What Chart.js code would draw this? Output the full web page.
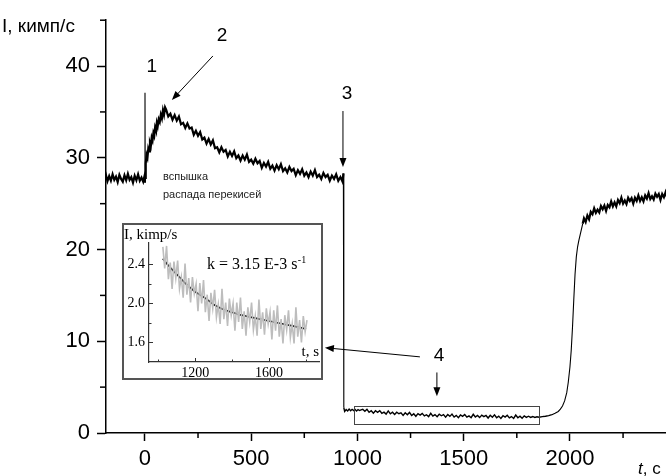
<!DOCTYPE html>
<html>
<head>
<meta charset="utf-8">
<script src="https://cdn.jsdelivr.net/npm/chart.js@4.4.1/dist/chart.umd.min.js"></script>
<style>
  html, body { margin: 0; padding: 0; background: #fff; }
  #wrap { position: relative; width: 666px; height: 476px; overflow: hidden; }
  #main { position: absolute; left: 0; top: 0; }
  #inset { position: absolute; left: 122px; top: 223px; width: 197px; height: 153px; border: 2px solid #555; background: #fff; }
  #inset canvas { display: block; }
</style>
</head>
<body>
<div id="wrap">
  <canvas id="main" width="666" height="476"></canvas>
  <div id="inset"><canvas id="insetChart" width="197" height="153"></canvas></div>
</div>
<script>
// baseline before the flash
const preT = [-190,-183,-176,-168,-160,-152,-144,-136,-128,-120,-112,-104,-96,-88,-80,-72,-64,-56,-48,-40,-32,-24,-16,-8,-3];
const preI = [27.6,28.1,27.45,28.0,27.5,28.2,27.6,27.95,27.35,28.15,27.7,27.4,28.1,27.55,28.25,27.6,27.9,27.3,28.05,27.55,28.2,27.5,27.85,27.4,27.9];

// spike (1) and rise of the flash (2)
const flashT = [0,0.5,1.5,3,5,8,12,16,20,24,28,32,36,40,44,48,52,56,60,65,70,75,80,85,90,95];
const flashI = [27.3,37.1,27.8,28.2,29.4,30.3,30.0,31.0,30.7,31.6,31.3,32.2,31.9,32.7,32.4,33.3,33.0,33.8,33.4,34.2,33.9,34.7,34.3,35.2,34.7,35.5];

// decay of the flash
const decayT = [100,110,120,130,140,150,160,170,180,190,200,210,220,230,240,250,260,270,280,290,
  300,310,320,330,340,350,360,370,380,390,400,410,420,430,440,450,460,470,480,490,
  500,510,520,530,540,550,560,570,580,590,600,610,620,630,640,650,660,670,680,690,
  700,710,720,730,740,750,760,770,780,790,800,810,820,830,840,850,860,870,880,890,
  900,910,920,930];
const decayI = [35.25,34.5,34.8,34.15,34.65,34.05,34.5,33.65,33.8,33.25,33.75,33.2,33.3,32.5,32.95,32.4,32.8,32.0,32.2,31.55,
  32.05,31.45,31.9,31.05,31.15,30.6,31.15,30.65,30.85,30.15,30.65,30.2,30.7,29.95,30.25,29.7,30.25,29.8,30.35,29.55,
  29.8,29.35,29.9,29.4,29.65,28.9,29.45,29.05,29.55,28.8,29.15,28.6,29.2,28.75,29.3,28.55,28.85,28.4,29.0,28.55,
  28.8,28.1,28.65,28.25,28.75,28.05,28.4,27.9,28.5,28.05,28.65,27.9,28.15,27.7,28.35,27.9,28.15,27.5,28.05,27.7,
  28.2,27.5,27.9,27.4];

// drop (3)
const dropT = [934,936,940,947,954,961,968,975,982,989,996,1003,1010,1017];
const dropI = [28.3,2.75,2.35,2.55,2.4,2.6,2.42,2.58,2.44,2.56,2.4,2.55,2.45,2.52];

// plateau inside the box (4), also shown in the inset
const boxT = [1025,1035,1045,1055,1065,1075,1085,1095,1105,1115,1125,1135,1145,1155,1165,1175,1185,1195,1205,1215,
  1225,1235,1245,1255,1265,1275,1285,1295,1305,1315,1325,1335,1345,1355,1365,1375,1385,1395,1405,1415,
  1425,1435,1445,1455,1465,1475,1485,1495,1505,1515,1525,1535,1545,1555,1565,1575,1585,1595,1605,1615,
  1625,1635,1645,1655,1665,1675,1685,1695,1705,1715,1725,1735,1745,1755,1765,1775,1785,1795,1805];
const boxI = [2.58,2.36,2.59,2.25,2.42,2.15,2.43,2.26,2.44,2.15,2.27,2.06,2.41,2.09,2.26,2.01,2.27,2.10,2.20,1.92,
  2.21,2.00,2.24,1.91,2.09,1.82,2.11,1.95,2.14,1.86,1.99,1.79,2.15,1.84,2.01,1.77,2.05,1.88,2.00,1.72,
  2.01,1.81,2.06,1.74,1.92,1.67,1.96,1.81,2.01,1.73,1.87,1.67,2.04,1.74,1.91,1.68,1.95,1.79,1.91,1.63,
  1.93,1.72,1.98,1.66,1.84,1.59,1.88,1.73,1.93,1.65,1.79,1.59,1.96,1.66,1.83,1.60,1.87,1.71,1.83];

// recovery
const riseT = [1815,1825,1835,1845,1855,1870,1885,1900,1915,1930,1945,1955,1965,1975,1985,1992,2000,2006,2012,2018,2024,2030,2036,2042,2048,2054,2060];
const riseI = [1.70,1.80,1.69,1.77,1.72,1.78,1.82,1.90,2.00,2.15,2.35,2.60,2.95,3.50,4.40,5.50,7.20,9.00,11.5,14.5,17.3,19.2,20.3,21.0,21.6,22.2,22.8];
const recT = [2066,2074,2082,2090,2098,2106,2114,2122,2130,2138,2146,2154,2162,2170,2178,2186,2194,2202,2210,2218,
  2226,2234,2242,2250,2258,2266,2274,2282,2290,2298,2306,2314,2322,2330,2338,2346,2354,2362,2370,2378,
  2386,2394,2402,2410,2418,2426,2434,2442,2450,2458];
const recI = [23.4,23.0,23.7,23.3,24.1,23.85,24.5,24.0,24.35,24.05,24.75,24.4,24.8,24.2,24.85,24.6,25.25,24.7,25.15,24.7,
  25.4,25.05,25.65,25.0,25.35,24.95,25.65,25.3,25.6,25.0,25.65,25.3,25.9,25.3,25.7,25.25,25.9,25.55,26.15,25.5,
  25.8,25.45,26.1,25.75,26.05,25.4,26.05,25.7,26.25,25.6];

// exponential fit in the inset
const fitT = [1025,1050,1100,1150,1200,1250,1300,1350,1400,1450,1500,1550,1600,1650,1700,1750,1800];
const fitI = [2.46,2.40,2.30,2.20,2.12,2.06,1.99,1.94,1.91,1.88,1.86,1.84,1.82,1.80,1.78,1.76,1.74];

// ticks
const xMajor = [0, 500, 1000, 1500, 2000];
const xMinor = [250, 750, 1250, 1750, 2250];
const yMajor = [0, 10, 20, 30, 40];
const yMinor = [5, 15, 25, 35, 45];
const insetXMajor = [1200, 1600];
const insetXMinor = [1000, 1400, 1800];
const insetYMajor = [1.6, 2.0, 2.4];
const insetYMinor = [1.8, 2.2];

const toPoints = (ts, vs) => ts.map((t, i) => ({ x: t, y: vs[i] }));

const mainPoints = [
  ...toPoints(preT, preI),
  ...toPoints(flashT, flashI),
  ...toPoints(decayT, decayI),
  ...toPoints(dropT, dropI),
  ...toPoints(boxT, boxI),
  ...toPoints(riseT, riseI),
  ...toPoints(recT, recI)
];

const SANS = '"Liberation Sans", Arial, sans-serif';
const SERIF = '"Liberation Serif", "Times New Roman", serif';
Chart.defaults.font.family = SANS;

// noisy parts of the trace are drawn heavier than the jumps
const traceWidth = (c) => {
  const x0 = c.p0.parsed.x, y0 = c.p0.parsed.y, y1 = c.p1.parsed.y;
  if (Math.abs(y1 - y0) > 2) return 1.1;
  if (x0 > 1900 && x0 < 2060) return 1.1;
  if (y0 < 5) return 1.4;
  return 2.2;
};

const arrow = (ctx, x1, y1, x2, y2) => {
  const a = Math.atan2(y2 - y1, x2 - x1);
  const len = 9, w = 3.5;
  ctx.beginPath();
  ctx.moveTo(x1, y1);
  ctx.lineTo(x2 - Math.cos(a) * len * 0.8, y2 - Math.sin(a) * len * 0.8);
  ctx.stroke();
  ctx.beginPath();
  ctx.moveTo(x2, y2);
  ctx.lineTo(x2 - Math.cos(a) * len - Math.sin(a) * w, y2 - Math.sin(a) * len + Math.cos(a) * w);
  ctx.lineTo(x2 - Math.cos(a) * len + Math.sin(a) * w, y2 - Math.sin(a) * len - Math.cos(a) * w);
  ctx.closePath();
  ctx.fill();
};

// labels and arrows, anchored in data units
const marks = [
  { text: '1', t: 33, v: 39.9 },
  { text: '2', t: 363, v: 43.3 },
  { text: '3', t: 951, v: 37.0 },
  { text: '4', t: 1384, v: 8.4 }
];
const arrows = [
  [320, 41.1, 127, 36.3],
  [932, 35.1, 932, 29.0],
  [1294, 8.3, 847, 9.3],
  [1374, 6.6, 1374, 4.0]
];

const mainDecor = {
  id: 'mainDecor',
  afterDraw(chart) {
    const { ctx, scales: { x, y } } = chart;
    ctx.save();
    ctx.strokeStyle = '#000';
    ctx.fillStyle = '#000';
    ctx.lineWidth = 1.5;
    // minor ticks
    xMinor.forEach((v) => {
      const px = x.getPixelForValue(v);
      ctx.beginPath();
      ctx.moveTo(px, y.bottom);
      ctx.lineTo(px, y.bottom + 5);
      ctx.stroke();
    });
    yMinor.forEach((v) => {
      const py = y.getPixelForValue(v);
      ctx.beginPath();
      ctx.moveTo(x.left, py);
      ctx.lineTo(x.left - 6, py);
      ctx.stroke();
    });

    // box around the plateau
    ctx.strokeStyle = '#444';
    ctx.lineWidth = 1;
    const bx1 = x.getPixelForValue(984), bx2 = x.getPixelForValue(1854);
    const by1 = y.getPixelForValue(2.9), by2 = y.getPixelForValue(0.97);
    ctx.strokeRect(Math.round(bx1) + 0.5, Math.round(by1) + 0.5, Math.round(bx2 - bx1), Math.round(by2 - by1));

    // arrows
    ctx.strokeStyle = '#000';
    ctx.lineWidth = 1;
    arrows.forEach(([t1, v1, t2, v2]) => {
      arrow(ctx, x.getPixelForValue(t1), y.getPixelForValue(v1), x.getPixelForValue(t2), y.getPixelForValue(v2));
    });

    // numbers
    ctx.font = `19px ${SANS}`;
    ctx.textAlign = 'center';
    ctx.textBaseline = 'middle';
    marks.forEach((m) => {
      ctx.fillText(m.text, x.getPixelForValue(m.t), y.getPixelForValue(m.v));
    });

    // flash caption
    ctx.fillStyle = '#222';
    ctx.font = `11px ${SANS}`;
    ctx.textAlign = 'left';
    ctx.fillText('вспышка', x.getPixelForValue(85), y.getPixelForValue(27.95));
    ctx.fillText('распада перекисей', x.getPixelForValue(85), y.getPixelForValue(26.0));

    // axis titles
    ctx.fillStyle = '#000';
    ctx.font = `19px ${SANS}`;
    ctx.fillText('I, кимп/с', 2, 27);
    ctx.font = `italic 17px ${SANS}`;
    ctx.fillText('t', 638, 469);
    const tw = ctx.measureText('t').width;
    ctx.font = `17px ${SANS}`;
    ctx.fillText(', с', 638 + tw, 469);
    ctx.restore();
  }
};

new Chart(document.getElementById('main'), {
  type: 'line',
  data: {
    datasets: [{
      data: mainPoints,
      borderColor: '#000',
      borderWidth: 1.3,
      segment: { borderWidth: traceWidth },
      pointRadius: 0,
      tension: 0,
      fill: false
    }]
  },
  options: {
    responsive: false,
    animation: false,
    devicePixelRatio: 1,
    layout: { padding: { top: 16, right: 0, left: 0, bottom: 0 } },
    plugins: { legend: { display: false }, tooltip: { enabled: false } },
    scales: {
      x: {
        type: 'linear',
        min: -183,
        max: 2452,
        afterBuildTicks: (axis) => { axis.ticks = xMajor.map((v) => ({ value: v })); },
        afterFit: (axis) => { axis.height = 43; },
        grid: { drawOnChartArea: false, tickLength: 8, tickWidth: 1.5, tickColor: '#000' },
        border: { color: '#000', width: 1.5 },
        ticks: { color: '#000', font: { size: 22 }, padding: 5, maxRotation: 0, autoSkip: false, callback: (v) => String(v) }
      },
      y: {
        type: 'linear',
        min: 0,
        max: 45,
        afterBuildTicks: (axis) => { axis.ticks = yMajor.map((v) => ({ value: v })); },
        afterFit: (axis) => { axis.width = 106; },
        grid: { drawOnChartArea: false, tickLength: 9, tickWidth: 1.5, tickColor: '#000' },
        border: { color: '#000', width: 1.5 },
        ticks: { color: '#000', font: { size: 22 }, padding: 7, autoSkip: false, callback: (v) => String(v) }
      }
    }
  },
  plugins: [mainDecor]
});

const insetDecor = {
  id: 'insetDecor',
  afterDraw(chart) {
    const { ctx, scales: { x, y } } = chart;
    ctx.save();
    ctx.strokeStyle = '#333';
    ctx.lineWidth = 1;
    insetXMajor.concat(insetXMinor).forEach((v) => {
      const px = Math.round(x.getPixelForValue(v)) + 0.5;
      const len = insetXMajor.includes(v) ? 4 : 2.5;
      ctx.beginPath();
      ctx.moveTo(px, y.bottom);
      ctx.lineTo(px, y.bottom - len);
      ctx.stroke();
    });
    insetYMajor.concat(insetYMinor).forEach((v) => {
      const py = Math.round(y.getPixelForValue(v)) + 0.5;
      const len = insetYMajor.includes(v) ? 4 : 2.5;
      ctx.beginPath();
      ctx.moveTo(x.left, py);
      ctx.lineTo(x.left + len, py);
      ctx.stroke();
    });

    ctx.fillStyle = '#000';
    ctx.textBaseline = 'middle';
    ctx.textAlign = 'left';
    ctx.font = `15px ${SERIF}`;
    ctx.fillText('I, kimp/s', 0, 10);
    ctx.font = `16px ${SERIF}`;
    const k = 'k = 3.15 E-3 s';
    ctx.fillText(k, 83, 40);
    const kw = ctx.measureText(k).width;
    ctx.font = `10px ${SERIF}`;
    ctx.fillText('-1', 83 + kw + 0.5, 35);
    ctx.font = `15px ${SERIF}`;
    ctx.textAlign = 'right';
    ctx.fillText('t, s', x.right, 127);
    ctx.restore();
  }
};

new Chart(document.getElementById('insetChart'), {
  type: 'line',
  data: {
    datasets: [
      {
        data: toPoints(boxT, boxI),
        borderColor: '#bdbdbd',
        borderWidth: 1.6,
        pointRadius: 0,
        tension: 0
      },
      {
        data: toPoints(fitT, fitI),
        borderColor: '#000',
        borderWidth: 1.7,
        pointRadius: 0,
        cubicInterpolationMode: 'monotone'
      }
    ]
  },
  options: {
    responsive: false,
    animation: false,
    devicePixelRatio: 1,
    layout: { padding: { top: 18, right: 2, left: 0, bottom: 0 } },
    plugins: { legend: { display: false }, tooltip: { enabled: false } },
    scales: {
      x: {
        type: 'linear',
        min: 950,
        max: 1870,
        afterBuildTicks: (axis) => { axis.ticks = insetXMajor.map((v) => ({ value: v })); },
        afterFit: (axis) => { axis.height = 16; },
        grid: { display: false, drawTicks: false },
        border: { color: '#333', width: 1.2 },
        ticks: { color: '#000', font: { size: 14, family: SERIF }, padding: 3, maxRotation: 0, autoSkip: false, callback: (v) => String(v) }
      },
      y: {
        type: 'linear',
        min: 1.4,
        max: 2.62,
        afterBuildTicks: (axis) => { axis.ticks = insetYMajor.map((v) => ({ value: v })); },
        afterFit: (axis) => { axis.width = 25; },
        grid: { display: false, drawTicks: false },
        border: { color: '#333', width: 1.2 },
        ticks: { color: '#000', font: { size: 14, family: SERIF }, padding: 4, autoSkip: false, callback: (v) => v.toFixed(1) }
      }
    }
  },
  plugins: [insetDecor]
});
</script>
</body>
</html>
